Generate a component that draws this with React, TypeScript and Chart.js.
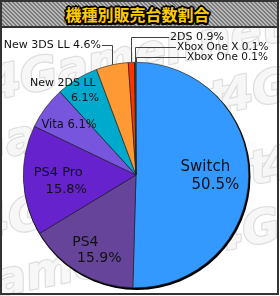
import React, { useEffect, useRef } from 'react';
import { Chart, registerables } from 'chart.js';

Chart.register(...registerables);

// ---- data ----
const categories = ['Switch', 'PS4', 'PS4 Pro', 'Vita', 'New 2DS LL', 'New 3DS LL', '2DS', 'Xbox One X', 'Xbox One'];
const shares = [50.5, 15.9, 15.8, 6.1, 6.1, 4.6, 0.9, 0.1, 0.1];
const sliceColors = ['#3399ff', '#664499', '#6622cc', '#7755dd', '#00aacc', '#ff9933', '#ff3300', '#006633', '#33aa33'];
const titleText = '機種別販売台数割合';
const watermarkText = '4Gamer.net';

// ---- label layout (style / placement only) ----
type LabelLayout =
  | { kind: 'in'; rf: number; size: number; twoLines: boolean; offs: { dx: number; dy: number }[] }
  | { kind: 'out'; size: number; side: 'left' | 'right'; yRel: number; textXRel: number };

const labelLayout: LabelLayout[] = [
  { kind: 'in', rf: 0.66, size: 15, twoLines: true, offs: [{ dx: -5, dy: -9 }, { dx: 5, dy: 9 }] },
  { kind: 'in', rf: 0.77, size: 14, twoLines: true, offs: [{ dx: -7, dy: -8 }, { dx: 7, dy: 8 }] },
  { kind: 'in', rf: 0.655, size: 13, twoLines: true, offs: [{ dx: -4, dy: -6 }, { dx: 4, dy: 11 }] },
  { kind: 'in', rf: 0.74, size: 11.5, twoLines: false, offs: [{ dx: 0, dy: 0 }] },
  { kind: 'in', rf: 0.92, size: 11, twoLines: true, offs: [{ dx: -19, dy: -3 }, { dx: 3, dy: 12 }] },
  { kind: 'out', size: 11, side: 'left', yRel: -130, textXRel: -35 },
  { kind: 'out', size: 11, side: 'right', yRel: -138, textXRel: 34 },
  { kind: 'out', size: 10.5, side: 'right', yRel: -128, textXRel: 41 },
  { kind: 'out', size: 10.5, side: 'right', yRel: -118, textXRel: 51 },
];

const FONT = '"DejaVu Sans", Verdana, sans-serif';

const watermarkPlugin = {
  id: 'watermark',
  beforeDraw(chart: any) {
    const ctx = chart.ctx as CanvasRenderingContext2D;
    ctx.save();
    ctx.fillStyle = '#ffffff';
    ctx.fillRect(0, 0, chart.width, chart.height);
    ctx.beginPath();
    ctx.rect(0, 28, chart.width, chart.height - 28);
    ctx.clip();
    ctx.font = `italic bold 46px ${FONT}`;
    ctx.lineWidth = 2.5;
    ctx.strokeStyle = '#dedede';
    ctx.fillStyle = '#f7f7f7';
    ctx.lineJoin = 'round';
    const rows = [
      { x: -8, y: 100 },
      { x: -60, y: 170 },
      { x: -20, y: 240 },
      { x: -70, y: 310 },
    ];
    rows.forEach((r) => {
      ctx.save();
      ctx.translate(r.x, r.y);
      ctx.rotate(-0.2);
      for (let k = -1; k < 2; k++) {
        ctx.strokeText(watermarkText, k * 290, 0);
        ctx.fillText(watermarkText, k * 290, 0);
      }
      ctx.restore();
    });
    ctx.restore();
  },
};

const shadowPlugin = {
  id: 'pieShadow',
  beforeDatasetsDraw(chart: any) {
    const arc = chart.getDatasetMeta(0).data[0] as any;
    if (!arc) return;
    const ctx = chart.ctx as CanvasRenderingContext2D;
    ctx.save();
    ctx.beginPath();
    ctx.arc(arc.x + 1, arc.y + 1.5, arc.outerRadius + 0.8, 0, Math.PI * 2);
    ctx.fillStyle = '#000';
    ctx.fill();
    ctx.restore();
  },
};

const labelPlugin = {
  id: 'sliceLabels',
  afterDatasetsDraw(chart: any) {
    const ctx = chart.ctx as CanvasRenderingContext2D;
    const meta = chart.getDatasetMeta(0);
    ctx.save();
    ctx.fillStyle = '#111';
    ctx.textBaseline = 'middle';
    meta.data.forEach((el: any, i: number) => {
      const L = labelLayout[i];
      const name = categories[i];
      const pct = `${shares[i].toFixed(1)}%`;
      const mid = (el.startAngle + el.endAngle) / 2;
      const cx = el.x;
      const cy = el.y;
      const R = el.outerRadius;
      ctx.font = `${L.size}px ${FONT}`;
      if (L.kind === 'in') {
        const ax = cx + Math.cos(mid) * R * L.rf;
        const ay = cy + Math.sin(mid) * R * L.rf;
        const lines = L.twoLines ? [name, pct] : [`${name} ${pct}`];
        ctx.textAlign = 'center';
        lines.forEach((t, j) => {
          ctx.fillText(t, ax + L.offs[j].dx, ay + L.offs[j].dy);
        });
      } else {
        const ex = cx + Math.cos(mid) * R;
        const ey = cy + Math.sin(mid) * R;
        const ly = cy + L.yRel;
        const tx = cx + L.textXRel;
        ctx.strokeStyle = '#444';
        ctx.lineWidth = 1;
        ctx.beginPath();
        const px = Math.round(ex) + 0.5;
        const py = Math.round(ly) + 0.5;
        ctx.moveTo(px, ey);
        ctx.lineTo(px, py);
        if (L.side === 'left') {
          ctx.lineTo(tx + 1, py);
          ctx.textAlign = 'right';
          ctx.fillText(`${name} ${pct}`, tx, ly);
        } else {
          ctx.lineTo(tx - 1, py);
          ctx.textAlign = 'left';
          ctx.fillText(`${name} ${pct}`, tx, ly);
        }
        ctx.stroke();
      }
    });
    ctx.restore();
  },
};

export default function App() {
  const canvasRef = useRef<HTMLCanvasElement | null>(null);

  useEffect(() => {
    document.body.style.margin = '0';
    const canvas = canvasRef.current;
    if (!canvas) return;
    const chart = new Chart(canvas, {
      type: 'pie',
      data: {
        labels: categories,
        datasets: [
          {
            data: shares,
            backgroundColor: sliceColors,
            borderColor: '#222',
            borderWidth: 0.6,
          },
        ],
      },
      options: {
        responsive: false,
        animation: false,
        devicePixelRatio: 1,
        layout: { padding: { left: 23, right: 31, top: 62, bottom: 8 } },
        plugins: {
          legend: { display: false },
          tooltip: { enabled: false },
          title: { display: false },
        },
      },
      plugins: [watermarkPlugin, shadowPlugin, labelPlugin],
    });
    return () => chart.destroy();
  }, []);

  const outline = [
    '-1.5px 0 0 #000', '1.5px 0 0 #000', '0 -1.5px 0 #000', '0 1.5px 0 #000',
    '-1.5px -1.5px 0 #000', '1.5px -1.5px 0 #000', '-1.5px 1.5px 0 #000', '1.5px 1.5px 0 #000',
    '2px 0 0 #000', '-2px 0 0 #000', '0 2px 0 #000', '0 -2px 0 #000',
  ].join(', ');

  return (
    <div style={{ position: 'relative', width: 280, height: 296, background: '#fff', overflow: 'hidden' }}>
      <canvas ref={canvasRef} width={280} height={296} style={{ position: 'absolute', left: 0, top: 0, width: 280, height: 296 }} />
      <div
        style={{
          position: 'absolute',
          left: 0,
          top: 0,
          width: 279,
          height: 28,
          boxSizing: 'border-box',
          borderBottom: '2px solid #333',
          background: 'repeating-linear-gradient(45deg, #7c7c7c 0px, #7c7c7c 1.4px, #b8b8b8 1.4px, #b8b8b8 2.8px)',
          display: 'flex',
          alignItems: 'center',
          justifyContent: 'center',
        }}
      >
        <span
          style={{
            fontFamily: '"Noto Sans CJK JP", sans-serif',
            fontWeight: 700,
            fontSize: 16,
            lineHeight: '16px',
            color: '#ffcc00',
            textShadow: outline,
            marginTop: 2,
            marginLeft: -4,
          }}
        >
          {titleText}
        </span>
      </div>
      <div
        style={{
          position: 'absolute',
          left: 0,
          top: 0,
          width: 279,
          height: 295,
          boxSizing: 'border-box',
          border: '2px solid #333',
          pointerEvents: 'none',
        }}
      />
    </div>
  );
}
